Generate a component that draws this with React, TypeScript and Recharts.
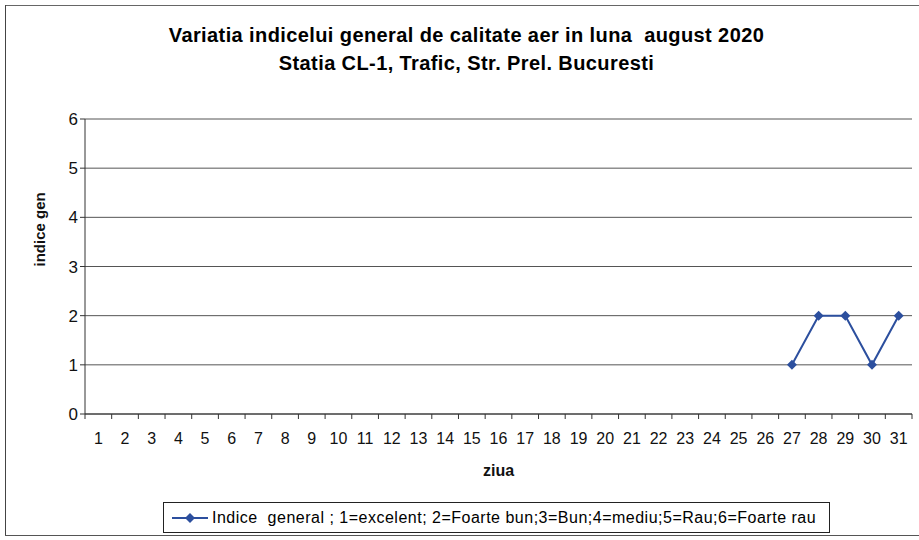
import React from 'react';
import { LineChart, Line, XAxis, YAxis, CartesianGrid } from 'recharts';

// zilele lunii august
const days = [
  1, 2, 3, 4, 5, 6, 7, 8, 9, 10, 11, 12, 13, 14, 15, 16,
  17, 18, 19, 20, 21, 22, 23, 24, 25, 26, 27, 28, 29, 30, 31,
];
// indicele general (doar zilele 27-31 au valori)
const indice: (number | null)[] = [
  null, null, null, null, null, null, null, null, null, null, null, null, null, null, null, null,
  null, null, null, null, null, null, null, null, null, null, 1, 2, 2, 1, 2,
];
const yTicks = [0, 1, 2, 3, 4, 5, 6];

const seriesName = 'Indice  general ; 1=excelent; 2=Foarte bun;3=Bun;4=mediu;5=Rau;6=Foarte rau';
const BLUE = '#2c4f9e';
const FONT = '"Liberation Sans", Arial, sans-serif';

const W = 919;
const H = 540;
const M = { top: 119, right: 7, bottom: 96, left: 40 };
const Y_W = 45;
const BAND = (W - M.left - Y_W - M.right) / days.length;

const data = days.map((d, i) => ({ zi: d, indice: indice[i] }));

const Diamond = (props: any) => {
  const { cx, cy, index } = props;
  if (cx == null || cy == null || props.value == null) return <g key={index} />;
  const r = 5;
  return (
    <path
      key={index}
      d={`M${cx},${cy - r}L${cx + r},${cy}L${cx},${cy + r}L${cx - r},${cy}Z`}
      fill={BLUE}
    />
  );
};

// eticheta + liniuta de separare intre categorii (ca in Excel)
const DayTick = (props: any) => {
  const { x, y, payload, index } = props;
  const top = y - 8;
  return (
    <g>
      {index === 0 && <line x1={x - BAND / 2} y1={top} x2={x - BAND / 2} y2={top + 5} stroke="#333" />}
      <line x1={x + BAND / 2} y1={top} x2={x + BAND / 2} y2={top + 5} stroke="#333" />
      <text x={x} y={top + 30} textAnchor="middle" fill="#111" fontSize={16} fontFamily={FONT}>
        {payload.value}
      </text>
    </g>
  );
};

const LegendBox = () => (
  <div
    style={{
      position: 'absolute', left: 163, top: 502, width: 667, height: 31,
      boxSizing: 'border-box', border: '1px solid #222', padding: '0 8px',
      display: 'flex', alignItems: 'center', fontFamily: FONT, fontSize: 16,
      background: '#fff', letterSpacing: 0.5, whiteSpace: 'pre',
    }}
  >
    <svg width={36} height={12} style={{ marginRight: 4 }}>
      <line x1={0} y1={6} x2={36} y2={6} stroke={BLUE} strokeWidth={2} />
      <path d="M18,1L23,6L18,11L13,6Z" fill={BLUE} />
    </svg>
    <span>{seriesName}</span>
  </div>
);

const Frame = () => (
  <>
    <div style={{ position: 'absolute', left: 5, top: 5, width: W - 5, height: 1, background: '#666', zIndex: 5 }} />
    <div style={{ position: 'absolute', left: 5, top: 5, width: 1, height: 530, background: '#444', zIndex: 5 }} />
    <div style={{ position: 'absolute', left: 5, top: 535, width: W - 5, height: 1, background: '#555', zIndex: 5 }} />
  </>
);

export default function App() {
  return (
    <div style={{ position: 'relative', width: W, height: H, background: '#fff', overflow: 'hidden' }}>
      <style>{'body{margin:0}'}</style>
      <LineChart
        width={W}
        height={H}
        data={data}
        margin={M}
        style={{ position: 'absolute', left: 0, top: 0 }}
      >
        <CartesianGrid horizontal vertical={false} stroke="#555" strokeWidth={1} />
        <XAxis
          dataKey="zi"
          type="number"
          domain={[0.5, 31.5]}
          ticks={days}
          interval={0}
          tickLine={false}
          axisLine={{ stroke: '#333' }}
          tick={<DayTick />}
          height={30}
          allowDataOverflow
          label={{ value: 'ziua', position: 'insideBottom', offset: -32, fontFamily: FONT, fontWeight: 'bold', fontSize: 16, fill: '#111' }}
        />
        <YAxis
          domain={[0, 6]}
          ticks={yTicks}
          width={Y_W}
          axisLine={{ stroke: '#333' }}
          tickLine={{ stroke: '#333' }}
          tickSize={5}
          tick={{ fill: '#111', fontSize: 17, fontFamily: FONT }}
          label={{ value: 'indice gen', angle: -90, position: 'insideLeft', offset: 0, fontFamily: FONT, fontWeight: 'bold', fontSize: 15, fill: '#111' }}
        />
        <Line
          dataKey="indice"
          name={seriesName}
          stroke={BLUE}
          strokeWidth={2}
          dot={Diamond}
          activeDot={false}
          connectNulls={false}
          isAnimationActive={false}
        />
      </LineChart>
      <div
        style={{
          position: 'absolute', left: 0, width: W, top: 21, textAlign: 'center',
          fontFamily: FONT, fontWeight: 'bold', fontSize: 20, lineHeight: '28px',
          letterSpacing: 0.4, paddingLeft: 14, boxSizing: 'border-box',
        }}
      >
        <div style={{ whiteSpace: 'pre' }}>Variatia indicelui general de calitate aer in luna  august 2020</div>
        <div>Statia CL-1, Trafic, Str. Prel. Bucuresti</div>
      </div>
      <LegendBox />
      <Frame />
    </div>
  );
}
